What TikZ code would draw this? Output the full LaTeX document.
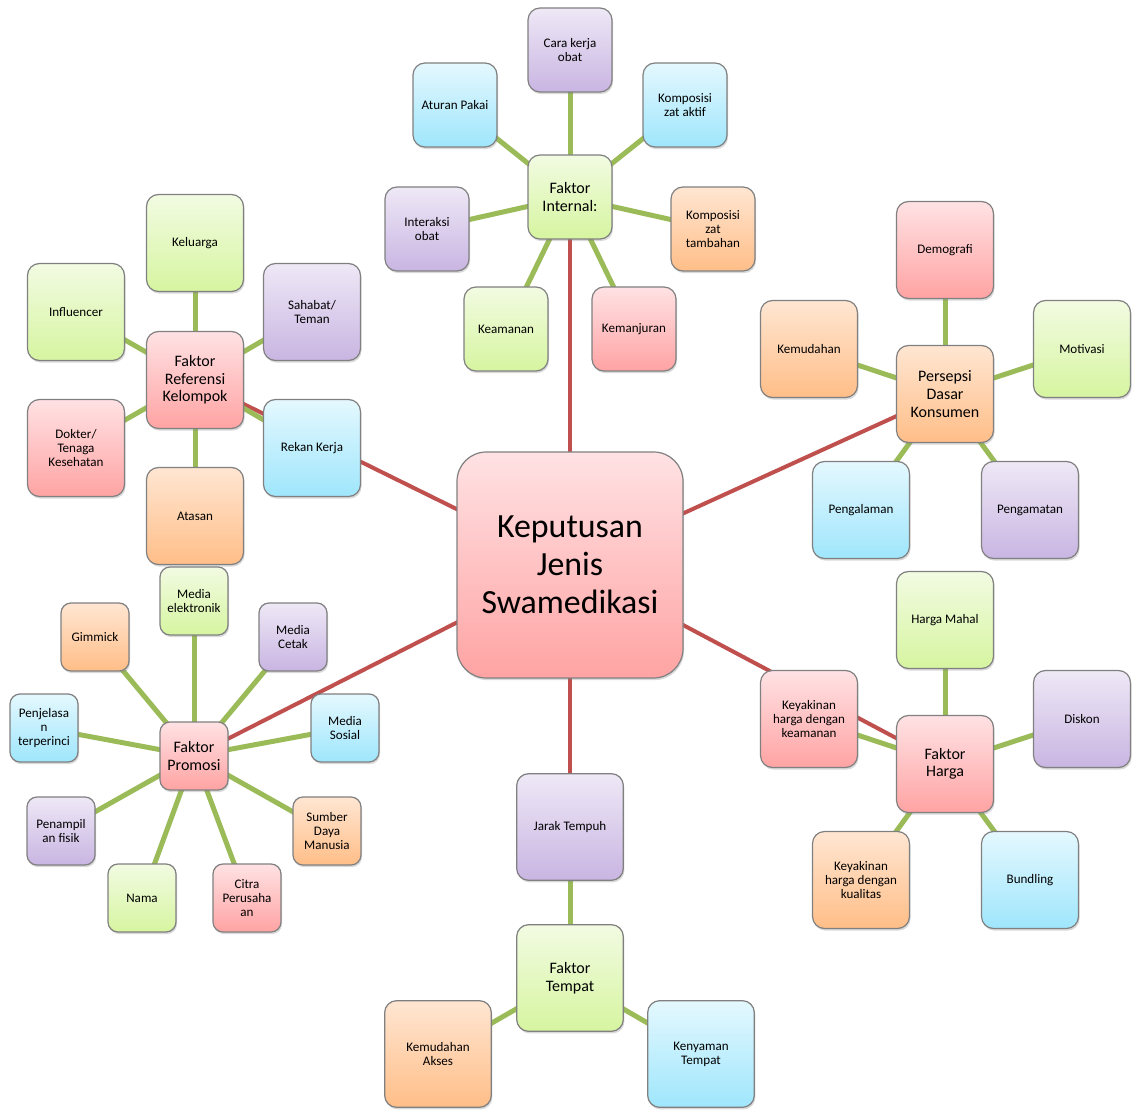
\documentclass[tikz,border=0pt]{standalone}
\usepackage{fontspec}
\setmainfont{Carlito}
\usetikzlibrary{shadows,backgrounds}
\definecolor{gline}{HTML}{9BBB59}
\definecolor{rline}{HTML}{C0504D}
\definecolor{pinkT}{HTML}{FFE2E4}
\definecolor{pinkB}{HTML}{FFA3A3}
\definecolor{greenT}{HTML}{F2FBE2}
\definecolor{greenB}{HTML}{D6F5A0}
\definecolor{blueT}{HTML}{E4F8FE}
\definecolor{blueB}{HTML}{9FE6FC}
\definecolor{purpT}{HTML}{EEE8F6}
\definecolor{purpB}{HTML}{C9B5E2}
\definecolor{oranT}{HTML}{FFE6D2}
\definecolor{oranB}{HTML}{FFBE88}
\begin{document}
\begin{tikzpicture}[x=0.75pt,y=-0.75pt,
  bx/.style={draw=black!50, line width=0.9pt, rounded corners=9pt, align=center, inner sep=1pt,
    font=\fontsize{9.8}{10.5}\selectfont,
    drop shadow={opacity=0.3, shadow xshift=0.8pt, shadow yshift=-1.6pt}},
  pinkf/.style={top color=pinkT, bottom color=pinkB},
  greenf/.style={top color=greenT, bottom color=greenB},
  bluef/.style={top color=blueT, bottom color=blueB},
  purpf/.style={top color=purpT, bottom color=purpB},
  oranf/.style={top color=oranT, bottom color=oranB},
  sa/.style={minimum width=63pt, minimum height=63pt},
  sb/.style={minimum width=72.75pt, minimum height=72.75pt},
  sc/.style={minimum width=51pt, minimum height=51pt, rounded corners=7.5pt},
  sd/.style={minimum width=80pt, minimum height=80pt},
  hub/.style={font=\fontsize{12}{13.2}\selectfont},
  redl/.style={rline, line width=3pt},
  grnl/.style={gline, line width=3.75pt}]
\useasboundingbox (0,0) rectangle (1132,1112);

% main
\node[bx, pinkf, minimum width=169.5pt, minimum height=169.5pt, rounded corners=22pt,
  font=\fontsize{25.4}{28.5}\selectfont] (main) at (570,565) {Keputusan\\Jenis\\Swamedikasi};

% Faktor Internal
\node[bx, greenf, sa, hub] (int) at (570,197) {Faktor\\Internal:};
\node[bx, purpf, sa] (int1) at (570,50) {Cara kerja\\obat};
\node[bx, bluef, sa] (int2) at (455,105) {Aturan Pakai};
\node[bx, bluef, sa] (int3) at (685,105) {Komposisi\\zat aktif};
\node[bx, purpf, sa] (int4) at (427,229) {Interaksi\\obat};
\node[bx, oranf, sa] (int5) at (713,229) {Komposisi\\zat\\tambahan};
\node[bx, greenf, sa] (int6) at (506,329) {Keamanan};
\node[bx, pinkf, sa] (int7) at (634,329) {Kemanjuran};

% Faktor Referensi Kelompok
\node[bx, pinkf, sb, hub] (ref) at (195,380) {Faktor\\Referensi\\Kelompok};
\node[bx, greenf, sb] (ref1) at (195,243) {Keluarga};
\node[bx, greenf, sb] (ref2) at (76,312) {Influencer};
\node[bx, purpf, sb] (ref3) at (312,312) {Sahabat/\\Teman};
\node[bx, pinkf, sb] (ref4) at (76,448) {Dokter/\\Tenaga\\Kesehatan};
\node[bx, bluef, sb] (ref5) at (312,448) {Rekan Kerja};
\node[bx, oranf, sb] (ref6) at (195,516) {Atasan};

% Faktor Promosi
\node[bx, pinkf, sc, hub] (pro) at (194,756) {Faktor\\Promosi};
\node[bx, greenf, sc] (pro1) at (194,601) {Media\\elektronik};
\node[bx, oranf, sc] (pro2) at (95,637) {Gimmick};
\node[bx, purpf, sc] (pro3) at (293,637) {Media\\Cetak};
\node[bx, bluef, sc] (pro4) at (44,728) {Penjelasa\\n\\terperinci};
\node[bx, bluef, sc] (pro5) at (345,728) {Media\\Sosial};
\node[bx, purpf, sc] (pro6) at (61,831) {Penampil\\an fisik};
\node[bx, oranf, sc] (pro7) at (327,831) {Sumber\\Daya\\Manusia};
\node[bx, greenf, sc] (pro8) at (142,898) {Nama};
\node[bx, pinkf, sc] (pro9) at (247,898) {Citra\\Perusaha\\an};

% Persepsi Dasar Konsumen
\node[bx, oranf, sb, hub] (per) at (945,394) {Persepsi\\Dasar\\Konsumen};
\node[bx, pinkf, sb] (per1) at (945,250) {Demografi};
\node[bx, oranf, sb] (per2) at (809,349) {Kemudahan};
\node[bx, greenf, sb] (per3) at (1082,349) {Motivasi};
\node[bx, bluef, sb] (per4) at (861,510) {Pengalaman};
\node[bx, purpf, sb] (per5) at (1030,510) {Pengamatan};

% Faktor Harga
\node[bx, pinkf, sb, hub] (har) at (945,764) {Faktor\\Harga};
\node[bx, greenf, sb] (har1) at (945,620) {Harga Mahal};
\node[bx, pinkf, sb] (har2) at (809,719) {Keyakinan\\harga dengan\\keamanan};
\node[bx, purpf, sb] (har3) at (1082,719) {Diskon};
\node[bx, oranf, sb] (har4) at (861,880) {Keyakinan\\harga dengan\\kualitas};
\node[bx, bluef, sb] (har5) at (1030,880) {Bundling};

% Faktor Tempat
\node[bx, greenf, sd, hub] (tem) at (570,978) {Faktor\\Tempat};
\node[bx, purpf, sd] (tem1) at (570,827) {Jarak Tempuh};
\node[bx, oranf, sd] (tem2) at (438,1054) {Kemudahan\\Akses};
\node[bx, bluef, sd] (tem3) at (701,1054) {Kenyaman\\Tempat};

\begin{scope}[on background layer]
  \foreach \h in {int,ref,pro,per,har,tem} \draw[redl] (main.center) -- (\h.center);
  \foreach \c in {1,...,7} \draw[grnl] (int.center) -- (int\c.center);
  \foreach \c in {1,...,6} \draw[grnl] (ref.center) -- (ref\c.center);
  \foreach \c in {1,...,9} \draw[grnl] (pro.center) -- (pro\c.center);
  \foreach \c in {1,...,5} \draw[grnl] (per.center) -- (per\c.center);
  \foreach \c in {1,...,5} \draw[grnl] (har.center) -- (har\c.center);
  \foreach \c in {1,...,3} \draw[grnl] (tem.center) -- (tem\c.center);
\end{scope}
\end{tikzpicture}
\end{document}
